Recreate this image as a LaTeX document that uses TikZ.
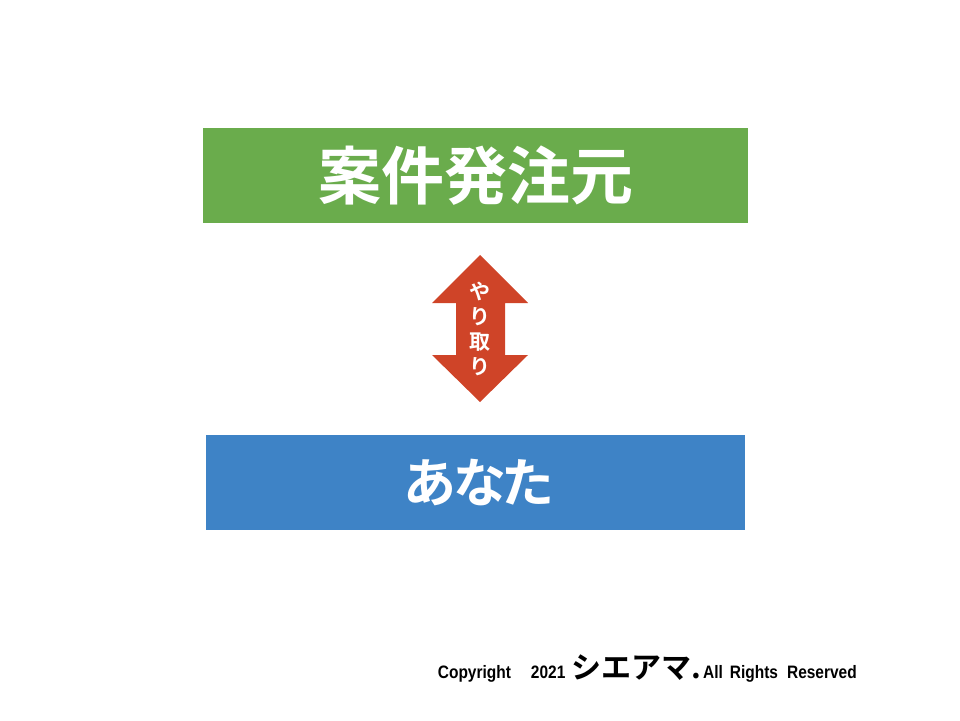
\documentclass[tikz,border=0pt]{standalone}
\usepackage{fontspec}
\newfontfamily\jpbold{Noto Sans CJK JP Bold}
\newfontfamily\jpprop[RawFeature=+palt,LetterSpace=-5]{Noto Sans CJK JP Bold}
\newfontfamily\copyfont[FakeStretch=0.86]{Liberation Sans Bold}
\usepackage{tikz}
\usetikzlibrary{positioning}

\definecolor{boxgreen}{RGB}{106,172,76}
\definecolor{boxblue}{RGB}{62,131,198}
\definecolor{arrowred}{RGB}{207,68,40}

\begin{document}
\begin{tikzpicture}[
    x=1pt, y=-1pt,
    party/.style={rectangle, minimum height=95pt, inner sep=0pt, text=white},
    exchange/.style={fill=arrowred, draw=none},
    vlabel/.style={align=center, text=white, inner sep=0pt, font=\jpbold\fontsize{21}{25}\selectfont}
]
    \useasboundingbox (0,0) rectangle (960,720);

    % Parties
    \node[party, fill=boxgreen, minimum width=545pt, font=\jpbold\fontsize{63}{63}\selectfont] (client) at (475.5,175.5) {\raisebox{3pt}{案件発注元}};
    \node[party, fill=boxblue, minimum width=539pt, font=\jpprop\fontsize{53}{53}\selectfont] (you) at (475.5,482.5) {\hspace*{6pt}あなた};

    % Double arrow between them
    \coordinate (mid) at (480,328.5);
    \fill[exchange] (480,255) -- (528,303) -- (505,303) -- (505,355) -- (528,355)
        -- (480,402) -- (432,355) -- (456,355) -- (456,303) -- (432,303) -- cycle;
    \node[vlabel] (talk) at (mid) {や\\り\\取\\り};

    % Footer
    \node[anchor=base east, inner sep=0pt] (copyright) at (857,678)
        {\copyfont\fontsize{18}{18}\selectfont Copyright\hspace{20pt}2021\hspace{6pt}{\jpbold\fontsize{30}{30}\selectfont シエアマ.}\hspace{2pt}All\hspace{7pt}Rights\hspace{9pt}Reserved};

\end{tikzpicture}
\end{document}
